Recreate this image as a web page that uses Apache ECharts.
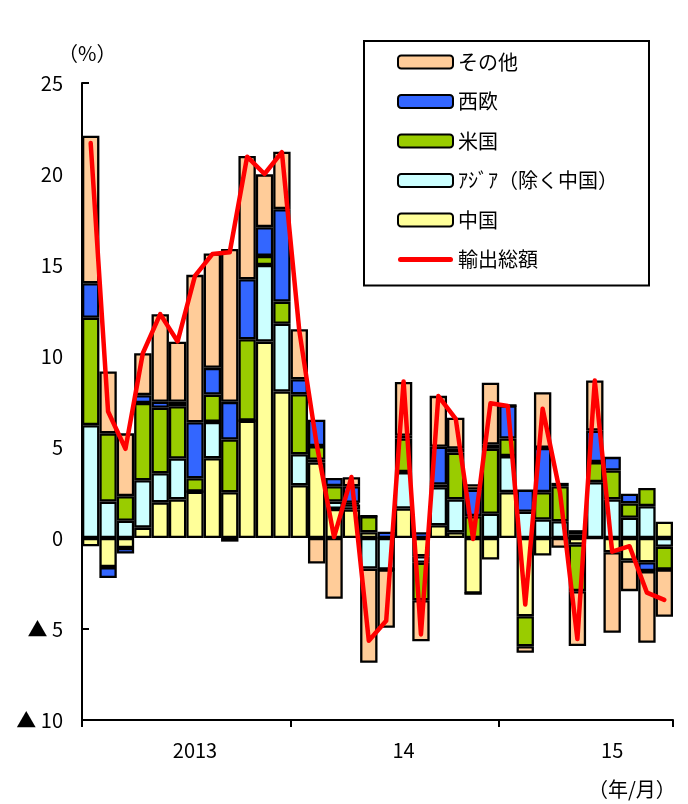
<!DOCTYPE html>
<html>
<head>
<meta charset="utf-8">
<script src="https://cdn.jsdelivr.net/npm/echarts@6/dist/echarts.min.js"></script>
<style>
html,body{margin:0;padding:0;background:#fff;}
#c{width:688px;height:804px;}
</style>
</head>
<body>
<div id="c"></div>
<script>
var months = ['2013/1','2013/2','2013/3','2013/4','2013/5','2013/6','2013/7','2013/8','2013/9','2013/10','2013/11','2013/12',
              '2014/1','2014/2','2014/3','2014/4','2014/5','2014/6','2014/7','2014/8','2014/9','2014/10','2014/11','2014/12',
              '2015/1','2015/2','2015/3','2015/4','2015/5','2015/6','2015/7','2015/8','2015/9','2015/10'];
var yearLabels = ['2013','14','15'];

var china  = [-0.45,-1.6,-0.55,0.57,1.96,2.12,2.55,4.38,2.51,6.45,10.79,8.05,
              2.9,4.15,1.6,1.57,0.32,0,1.62,-1.0,0.7,0.32,-3.05,-1.18,
              2.52,-4.3,-0.96,0,-0.36,0,-0.78,-1.24,-1.33,0.89];
var asia   = [6.2,2.0,0.95,2.6,1.6,2.25,0,2.0,-0.2,0,4.21,3.72,
              1.7,0.15,0.4,0.27,-1.68,-1.73,2.0,-0.36,2.09,1.8,0,1.33,
              1.98,1.44,1.02,0.92,0.2,3.07,2.12,1.11,1.75,-0.48];
var usa    = [5.9,3.75,1.35,4.25,3.6,2.87,0.73,1.5,2.9,4.47,0.5,1.22,
              3.3,0.75,0.85,0.1,0.88,0,1.85,-2.06,0.15,2.57,1.2,3.57,
              0.97,-1.65,1.5,1.93,-2.56,1.1,1.59,0.79,1.0,-1.25];
var europe = [1.9,-0.6,-0.3,0.43,0.33,0.24,3.08,1.47,2.07,3.3,1.58,5.08,
              0.82,1.45,0.45,0.9,0,0.35,0.15,0.32,2.07,0.22,1.46,0.24,
              1.81,1.22,2.43,0.18,0.23,1.73,0.75,0.53,-0.49,0];
var other  = [8.1,3.4,3.45,2.3,4.8,3.3,8.1,6.28,8.4,6.77,2.9,3.15,
              2.75,-1.4,-3.34,0.5,-5.18,-3.2,2.95,-2.25,2.8,1.7,0.3,3.39,
              0,-0.36,3.06,-0.54,-3.02,2.75,-4.43,-1.68,-3.94,-2.6];
var total  = [21.7,6.95,4.9,10.15,12.3,10.8,14.4,15.6,15.7,20.95,20.0,21.2,
              11.4,5.15,0.05,3.35,-5.65,-4.55,8.6,-5.3,7.8,6.55,-0.05,7.4,
              7.25,-3.65,7.1,2.5,-5.55,8.65,-0.75,-0.45,-3.0,-3.4];

var FONT = '"Noto Sans CJK JP", "Noto Sans", sans-serif';
var chart = echarts.init(document.getElementById('c'), null, {renderer:'canvas'});

function barSeries(name, data, color) {
  return {
    name: name, type: 'bar', stack: 'total', data: data,
    barCategoryGap: '0%', barGap: '0%',
    itemStyle: {color: color, borderColor: '#000', borderWidth: 2.3},
    emphasis: {disabled: true}
  };
}

chart.setOption({
  animation: false,
  backgroundColor: '#fff',
  textStyle: {fontFamily: FONT},
  grid: {left: 82, right: 15, top: 83, bottom: 84, containLabel: false},
  legend: {
    orient: 'vertical', left: 364, top: 41,
    padding: [11, 31, 16, 33],
    itemWidth: 55, itemHeight: 13, itemGap: 19.5,
    borderColor: '#000', borderWidth: 2,
    backgroundColor: '#fff',
    textStyle: {fontSize: 20, color: '#000', fontFamily: FONT},
    data: ['その他','西欧','米国','ｱｼﾞｱ（除く中国）','中国',
      {name: '輸出総額',
       icon: 'path://M2.5,0H52.5A2.5,2.5,0,0,1,52.5,5H2.5A2.5,2.5,0,0,1,2.5,0Z',
       itemStyle: {color: '#FF0000', borderWidth: 0}}]
  },
  xAxis: {
    type: 'category', data: months,
    axisLine: {onZero: false, lineStyle: {color: '#000', width: 2}},
    axisTick: {show: true, length: 7, lineStyle: {color: '#000', width: 2},
      interval: function (i) { return i % 12 === 0; }},
    axisLabel: {
      interval: function (i) { return i % 12 === 6; },
      formatter: function (v, i) { return yearLabels[Math.floor(i / 12)]; },
      fontSize: 20, color: '#000', margin: 20, fontFamily: FONT
    },
    splitLine: {show: false}
  },
  yAxis: {
    type: 'value', min: -10, max: 25, interval: 5,
    axisLine: {show: true, lineStyle: {color: '#000', width: 2}},
    axisTick: {show: true, inside: true, length: 7, lineStyle: {color: '#000', width: 2}},
    axisLabel: {
      fontSize: 20, color: '#000', margin: 19, fontFamily: FONT,
      formatter: function (v) { return v < 0 ? '▲ ' + (-v) : String(v); }
    },
    splitLine: {show: false}
  },
  graphic: [
    {type: 'text', left: 58, top: 43, style: {text: '（%）', font: '20px ' + FONT, fill: '#000'}},
    {type: 'text', left: 588, top: 779, style: {text: '（年/月）', font: '20px ' + FONT, fill: '#000'}}
  ],
  series: [
    barSeries('中国', china, '#FFFF99'),
    barSeries('ｱｼﾞｱ（除く中国）', asia, '#CCFFFF'),
    barSeries('米国', usa, '#99CC00'),
    barSeries('西欧', europe, '#3366FF'),
    barSeries('その他', other, '#FFCC99'),
    {
      name: '輸出総額', type: 'line', data: total, symbol: 'none', z: 10,
      lineStyle: {color: '#FF0000', width: 4.5, cap: 'round', join: 'round'},
      itemStyle: {color: '#FF0000'},
      emphasis: {disabled: true}
    }
  ]
});
</script>
</body>
</html>
